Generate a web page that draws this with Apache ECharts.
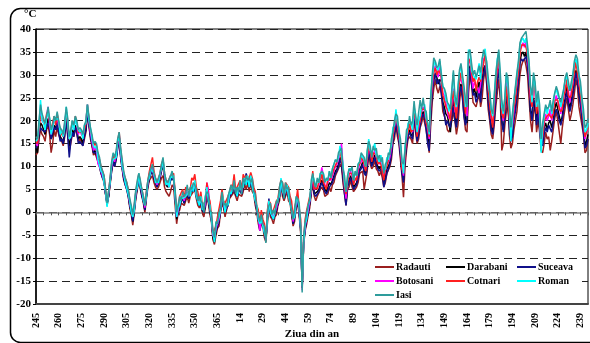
<!DOCTYPE html>
<html>
<head>
<meta charset="utf-8">
<script src="https://cdn.jsdelivr.net/npm/echarts@6/dist/echarts.min.js"></script>
<style>
  html, body { margin: 0; padding: 0; background: #fff; }
  #chart { width: 590px; height: 343px; }
</style>
</head>
<body>
<div id="chart"></div>
<script>
// Daily mean air temperature, day 245 of one year to day 244 of the next.
const days = [];
for (let d = 245; d <= 366; d++) days.push(String(d));
for (let d = 1; d <= 244; d++) days.push(String(d));

const stations = ['Radauti', 'Darabani', 'Suceava', 'Botosani', 'Cotnari', 'Roman', 'Iasi'];
const colors = ['#9a1f1f', '#000000', '#10108a', '#ff00ff', '#ff2020', '#00ffff', '#2e9c9c'];

const radauti = [12.5,13,16,18,17,16.5,15.5,18,19,17, 13,15,18,16.5,18.5,17,16,15.5,14.5,16.5, 20,17,13.5,15,17,16.5,18.5,17,15.5,16, 15.5,14.5,16,17.5,21.5,19,16,14.5,12.5,13, 13,11,10,8.5,7.5,6.5,4,2,3.5,6, 9,11,10,11.5,14,16,12,9.5,7,6, 5,3.5,1,-0.5,-2.8,0,3,5,7,5, 3.5,2,0,3,5.5,7,7.5,8,6.5,5.5, 5,5.5,6.5,7.5,8,5.5,4.5,4,3.5,4.5,
  6,5.5,1.5,-2.5,0,0.5,2,2,1.5,2.5, 3.5,2,3.5,4,4,5,3,1.5,1,1.5, 0,-1,1,3.5,2,-0.5,-2,-6,-7,-5, -3.5,-3,0,2,1,-1,0.5,0.5,3,3, 4,4.5,3.5,2.5,4,4,3.5,4.5,6,5, 6.5,4.5,6.5,4.5,4,1.5,0,-2.5,-4,-2.5, -3,-5.5,-6.5,-2.5,1,-1,-1.5,-2.5,-1,-0.5, 1.5,2.5,6,3.5,2.5,3.5,4.5,2.5,2,-0.5, -3,-2,1,2,-0.5,-4.5,-16.5,-7,-4,-2.5, -0.5,1,4,6.5,3.5,2.5,3.5,3.5,5,5.5, 5,3.5,3.5,4,5.5,4.5,6,6.5,8,8, 9.5,10.5,10,6.5,4,1.5,5,5.5,7,5.5, 4.5,4.5,5.5,6.5,8.5,8.5,9,5,7,9, 13,10.5,9.5,10,11.5,9.5,9,8,9,7.5, 5.5,6.5,8.5,8.5,10,11.5,15,16,19,16.5, 15,11.5,8,3.3,10,13.5,16,16.5,16,15, 20.5,17.5,15,16,18.5,19.5,21,19.5,18,15.5,
  13,19,24,27,29,27,26,27.5,26,22, 21,20,18,17.5,18.5,20,22,20,17,19, 24,27,25,21,18,17.5,26,30,28,24, 24,23,24.5,26,23,25,29,31,28,22.5, 20,17,16,19,23,26,29,25,13.5,15, 19,22,24.5,17,14,15,18,20,22,26, 30,32,33,33.5,32,30,25,20,17.5,22, 23,17.5,20,17.5,13.5,13,15,17.5,16,16.5, 13.5,15.5,18,20.5,22,20,17.5,15,18.5,21, 23,25,22.5,20,21.5,23.5,26,29,27.5,23, 21,19,17,13,13.5,16];

const darabani = [14,13,17,19.5,19,18,17,19,20.5,18, 16,17,19,18,20,18,16.5,16,15,18, 21,18,14.5,16,18,17,19,18,16,16.5, 16,15,17,18,22.5,19.5,17,15,13,13.5, 13.5,11.5,10.5,9,8,7,4,1.5,3.5,6.5, 9.5,11.5,10.5,12,14.5,16.5,12.5,10,7.5,6.5, 5.5,4,1.5,0,-2,0.5,3.5,5.5,7.5,5.5, 4,2.5,0.5,3.5,6,7.5,8.5,9,7.5,6.5, 5.5,6.5,7.5,9,10.5,7.5,6,5.5,5.5,7, 7.5,7,3.5,-1.5,0,1.5,2.5,3,2,3.5, 4,3,4,5,4.5,6,3.5,2.5,1.5,2.5, 0.5,0,1.5,4.5,2.5,0.5,-1.5,-5.5,-6.5,-4, -3,-2,0.5,3,1.5,0,1,1.5,3.5,4, 4.5,5.5,4,3.5,4.5,5,4,5.5,6.5,6, 7,5.5,7,5.5,4.5,2.5,0.5,-1.5,-3.5,-1.5, -2.5,-4.5,-6,-1.5,1.5,0,-1,-1.5,-0.5,0.5, 2,3.5,6.5,4.5,3,4.5,5,3.5,2.5,0.5, -2.5,-1,1.5,3,0,-3.5,-16.5,-6.5,-3.5,-1.5, 0,2,4.5,7.5,4,4,4.5,5,6,7, 6,5,4.5,5.5,6.5,6,7,8,9,9.5, 10.5,12,11,8,5,2.5,6,7,8,7, 5.5,6,6.5,8,9.5,10,11,9,8.5,10.5, 14,12,10.5,11.5,12.5,11,10,9.5,10,9, 6.5,8,9.5,10,11,13,16,17.5,20,18, 16,13,9,7,12,15,17,18,17,16.5, 21.5,19,16,17.5,19.5,21,22,21,19,17,
  15,22,27,29,30,29.5,28,29,28.5,24, 23,21.5,21,19.5,17.5,22,25,21,19,23, 27,28,27,24,20,19.5,30,32,29,26, 27,25,27,28.5,25.5,29,31.5,32,30,25, 22,19,17.5,21,26,29.5,32,27,20,18, 21.5,26,26,20,16,17,21,23,25.5,29, 33,34.5,35,34,35,33,29,22,21.5,25, 25,20,23,19,15,15.5,18.5,19.5,18,19.5, 20,18.5,20,22.5,24,22.5,21,19.5,21,23.5, 25,27.5,24.5,22.5,24.5,26.5,29,31,30,26.5, 24,21,18.5,14.5,15.5,17];

const suceava = [14,15,17,18.5,18,18,17.5,18.5,19.5,18.5, 16,17.5,18.5,18,19.5,17.5,15.5,16,15,17, 20.5,16.5,12,15.5,17.5,16.5,18.5,17.5,15,15.5, 15,14.5,16.5,18,22,19,16.5,15,13,13, 13,11,10,8.5,7.5,7,4,2,3.5,6.5, 9,11,10,11.5,14,16.5,12,9.5,7.5,6, 5,3.5,1.5,0,-2,0.5,3.5,5.5,7,5.5, 3.5,2.5,0.5,3.5,6,7.5,8.5,9.5,7.5,6.5, 5.5,6.5,7.5,9.5,10.5,8,6.5,6,5.5,7, 7.5,7,3.5,-1,0,1.5,2.5,3,2,3.5, 4,3,4.5,5,4.5,6,3.5,2.5,1.5,2.5, 0.5,0,1.5,4.5,2.5,0.5,-1.5,-5,-6,-4, -3,-2,0.5,3,1.5,0,1,1.5,3.5,4, 4.5,5.5,4,3.5,4.5,5,4,5.5,7,8.5, 7,5.5,7,5.5,4.5,2.5,0.5,-1.5,-4,-2, -2.5,-4.5,-6,-1,3,0,-1,-1.5,-0.5,0.5, 2,3.5,6.5,4.5,3,4.5,5,3.5,2.5,0.5, -2.5,-1,1.5,3,0,-3.5,-16,-6.5,-3.5,-1.5, 0,2,4.5,7.5,4,3.5,4,4.5,5.5,6.5, 5.5,4.5,4,4,5.5,5.5,6.5,7.5,8.5,9, 10,11.5,10.5,7.5,4,1.5,5.5,6.5,7.5,6.5, 5,5.5,6,7.5,9,9.5,10.5,8.5,8,10, 13.5,11.5,10,11,12,10.5,9.5,9,9.5,8.5, 5.5,5.5,8.5,9.5,10.5,12.5,15.5,17,19.5,17.5, 15.5,12.5,8.5,6.5,11.5,14.5,16.5,17.5,16.5,16, 21,18.5,15.5,17,19,20.5,21.5,20.5,18,15,
  13.4,21,26,29,30.5,28,29,28,26,23.5, 21.5,19,20,19,18.5,21.5,23,20,18.5,22, 26,27.5,25,21,19,20.6,29,31.5,28,25.5, 26,24,25,27,24,28.5,30,32,29,24, 21,18,17,20,25,28.5,31,26.5,20,17.5, 20.5,25,24,18.5,15.5,16.5,20,22,25,28.5, 32.5,33.5,33,33,34,32,28,22,20,24.5, 23.5,19,21.5,18.5,15,14.5,17,18.5,17.5,19, 19,17.5,19.5,21.5,22.5,21.5,20,19,20.5,22.5, 24.5,26.5,23.5,22,23.5,25.5,28,30.5,28.5,25.5, 23.5,20.5,17.5,14,14.5,16];

const botosani = [15,14.5,19,22,20,19.5,19,21,23,19, 17,18.5,20,19.5,20.5,19,18,17.5,16.5,19.5, 22,19.5,16,17.5,19,18.5,20.5,19,17,18, 17,16.5,18.5,19.5,23.5,20,17.5,15.5,13.5,14, 13.5,10.5,10,9,8,7,4.5,2,4,7, 10,12,11,12.5,15,17,13,10,8,7, 6,4.5,2,0.5,-1,1,4,6,8,6, 4.5,3,1,4,6.5,8,9,10,8,7, 6,7,8,10,11,8,6.5,6,6.5,8, 8,7.5,4,-1,0.5,2,3,3.5,2.5,4, 4.5,3.5,4.5,5.5,5,6.5,4,3,2,3, 1,0.5,2,6.5,5,1,-1,-5,-5.5,-3.5, -2.5,-1.5,1,3.5,2,0.5,1.5,2,4,4.5, 5,6,4.5,4,5,5.5,4.5,6,7,6.5, 7.5,6,7.5,6,5,3,1,-1,-4,-1, -2,-4,-6,-1,2,0.5,-0.5,-1,0,1, 2.5,4,7,5,3.5,5,6,4,3,1, -2,-0.5,2,3.5,0.5,-3,-17,-6,-3,-1, 0.5,2.5,5,8,5,5,5.5,6,7.5,9.8, 8,6,5.5,6.5,7.5,7,8,9,10,10.5, 11.5,13,15,10,6,3,7,8,9,8, 6.5,7,7.5,9,10.5,11,12,10,9.5,11.5, 15,13,11.5,12.5,13.5,12,11,10.5,11,10, 7.5,9,10.5,11,12,14,17,18.5,21.5,19, 17,14,10,8,13,16,18,19,18,17.5, 22.5,20,17,18.5,20.5,22,23,22,20,18,
  16,24.5,27.5,31,32,30.5,29.5,32.5,29,26, 25.5,24,22,20.5,21,23.5,27,22,21.5,25, 29.5,29.5,28,25.5,22.5,21,32.5,33.5,30,27, 28.5,27.5,27,26,28,31.5,33.5,34,31,27.5, 24.5,20.5,19.5,23,28.5,31,33,28.5,22.5,20, 23.5,28.5,26.5,21.5,17.5,19,22,25.5,28,31.5, 35.5,36,37,36,37.5,34.5,30.5,25,23.5,27.5, 26,22.5,24.5,20.5,15,17,19.5,21.5,20,21, 22.5,20,22.5,24,25.5,24,23.5,21.5,23.5,25, 27.5,28,26.5,24,26.5,28,31.5,32,31.5,28, 26.5,22.5,20.5,16,17.5,18];

const cotnari = [15.5,15,18.5,21,20.5,20,19,21.5,22,20, 18,19.5,21,19,21.5,19.5,18,17,16.5,19, 22,19,16,17.5,20,19,21,19.5,17.5,17.5, 17.5,16.5,18,19.5,23.5,20.5,18,16.5,14.5,15, 14.5,12.5,11.5,10,9,8,5,2.5,4.5,7.5, 10.5,12.5,11.5,13,15.5,17.5,13.5,11,8.5,7.5, 6.5,5,2.5,1,-1,1.5,4.5,6.5,8.5,6.5, 5,3.5,1.5,4.5,7,9,10.5,12,9,7.5, 6.5,7.5,8.5,10.5,11.5,8.5,7,6.5,6.5,8,
  8,8.5,4.5,0.5,1,3.5,3.5,5,3,5.5, 5,5,5,7.5,7,8.3,5.5,4.5,2.5,4.5, 1.5,2,2.5,6.5,3.5,2.5,-0.5,-4.5,-4.5,-3, -1,-1,2.5,5,2.5,2,2,3.5,4.5,6, 5.5,8.3,5,5.5,5.5,7,5,8.3,7.5,8, 8,7.5,8.7,7.5,5.5,4.5,1.5,0.5,-2.5,0.5, -1.5,-2.5,-5.5,0.5,2.5,2,0,0.5,0.5,2.5, 3,5.5,7,6.5,4,6.5,6,5.5,3.5,2.5, -1.5,1,2.5,5,1,-1.5,-15.5,-5.5,-1.5,0.5, 0.5,3.5,5,9,5,5.5,5,7,6.5,8.5, 6.5,6.5,5,7.5,7,7.5,7.5,9.5,9.5,11, 11,13.5,11.5,9.5,5.5,4,6.5,8.5,8.5,8.5, 6,7.5,7,10,10.5,12,11.5,10.5,9,12, 14.5,13.5,11,13,13,12.5,10.5,11,10.5,10.5, 7,9.5,10,11.5,11.5,14.5,16.5,19,20.5,19.5, 16.5,14.5,9.5,8.5,12.5,16.5,17.5,19.5,17.5,18, 22,20.5,16.5,19,20,22.5,22.5,22.5,19.5,18.5,
  16.5,23.5,28.5,30.5,31.5,30,31,30.5,29.5,25.5, 24.5,23,22.5,21.5,20,24.5,26.5,23,20.5,25.5, 28.5,30.5,28.5,24.5,21.5,21.5,33.5,33,30.5,28.5, 29.5,26.5,28.5,29.5,28.5,31,32.5,34.5,30.5,27, 23.5,21,18.5,23.5,27.5,31.5,34,27.5,21.5,20.5, 22.5,27.5,27.5,20.5,17,19.5,23,24.5,28.5,30.5, 34.5,36.5,36.5,36.5,36,34.5,31.5,24.5,23,28.5, 26.5,21.5,24,21.5,15.5,16.5,20,20.5,20.5,21.5, 21.5,20.5,21.5,24.5,24.5,24.5,22.5,22,22.5,25.5, 26.5,29,25.5,25,25.5,28.5,30.5,33,30.5,28.5, 25.5,23.5,19.5,16.5,16.5,18.5];

const roman = [15.5,16,19,24.5,20,19.5,18,20.5,22,20.5, 17,18.5,20,20,20.5,20,17,18,16.5,18.5, 23,19.5,16,16.5,20,18,20.5,19,18,17.5, 18,16,19,19.5,23.5,20,18.5,16,14.5,14, 14.5,11.5,11.5,9,8.5,6.5,4.5,1.2,4.5,6.5, 10.5,11.5,11.5,12,15.5,16.5,13.5,10,8.5,6.5, 6.5,4,2.5,0,-1,0.5,4.5,5.5,8.5,5.5, 5,2.5,1.5,3.5,7,7.5,9.5,9.5,8.5,6.5, 6.5,6.5,8.5,9.5,11.5,8.5,6,6.5,5.5,8,
  7.5,8,3.5,-1,1,1.5,3.5,3,3,3.5, 4,4.5,3.5,6,4.5,7,3.5,3.5,1.5,3.5, 0.5,1.5,1.5,5.5,2.5,1.5,-1.5,-4.5,-6.5,-3, -3,-1,0.5,4,2.5,0,2,1.5,4.5,4, 5.5,5.5,5,3.5,5.5,5,5,5.5,7.5,6, 8,5.5,8,5.5,5.5,2.5,1.5,-1.5,-2.5,-1.5, -1.5,-4.5,-5.5,-1.5,2.5,0,0,-1.5,0.5,0.5, 3,3.5,7.5,4.5,4,4.5,6,3.5,3.5,0.5, -1.5,-1,2.5,3,1,-3.5,-16,-6.5,-2.5,-1.5, 1.5,2.5,6,8,7,5.5,7,6.5,8.5,8.5, 8.5,7,7,7,9,7.5,9.5,9.5,11.5,11, 12,14.5,12.5,10.5,6.5,4.5,7.5,9.5,9.5,9.5, 7,8.5,8,10.5,11,12.5,12.5,11.5,10,13, 16,13.5,13,13,15,12.5,12.5,11,12.5,10.5, 9,9.5,12,11.5,13.5,14.5,18.5,19,22.5,19.5, 18.5,14.5,11.5,8.5,14.5,16.5,19.5,19.5,19.5,18, 23,21.5,17.5,20,21,23.5,23.5,23.5,20.5,19.5,
  17,25.5,29.5,32,33,31.5,31,33,30.5,27.5, 27,24.5,24,22,23,26.5,30.5,24.5,23,27.5, 30.5,32,29,27,23,23.5,35.5,35,31,30, 30,29,29,32.5,29,33.5,34.5,35.7,32,28, 26,22.5,21,25,30,33.5,35,29,23,21.5, 25,30,28,23,15.5,20.5,24.5,27,30,32.5, 36.5,37.5,38,37,38,35.5,32,27,24,30, 27.5,23,25.5,22,13,18.5,21,23,21.5,23, 24,21.5,23.5,26,27,25.5,25,23,24.5,27, 29,30,27.5,26.5,27.5,30,32.5,33.5,32,30, 27.5,24.5,21,17.5,18,19.5];

const iasi = [16.5,16,20,23.5,21.5,20.5,19.5,21,23,20.5, 18,19,21,20,22,20,18.5,18,17,20, 23,20.5,16.5,18,20,19,21,20,18,18.5, 18,17,19,20,23.5,21,18.5,17,15,15.5, 15,13,12,10,9,8,5,2,4.5,7.5, 11,13,12,13.5,16,17.5,14,11.5,9,7.5, 6.5,5,3,1.5,-0.5,2,5,7,8.5,7, 5,3.5,1.5,4.5,7,8.5,9.5,10.5,8.5,7.5, 6.5,7.5,8.5,10.5,12,8.5,7,6.5,6.5,8,
  9,7,5,0,0,3.5,2.5,4.5,3.5,4, 6,3.5,5.5,5,6.5,6,5,2.5,3.5,2.5, 2,0,3.5,4.5,4,0.5,0,-4,-5.5,-2, -2.5,0,1,4.5,1.5,2,1,3.5,3.5,6, 4.5,7,4,5.5,4.5,7,4,7.5,6.5,8, 7,7.5,6.5,7.5,4.5,4,0.5,0.5,-2,-0.5, -2.5,-3,-6.7,0,1.5,2,-0.5,0.5,-0.5,2.5, 2,5.5,7,6.5,3,6.5,5,5.5,2.5,2.5, -1.5,0.5,3.5,3,2,-2.5,-17.5,-5,-2,0, 1.5,3,7,8.5,6.5,5.5,7.5,6.5,8.5,9, 8.5,6.5,7.5,7,9,7.5,9.5,9.5,11.5,11, 13,13.5,14,9.5,8,4.5,8,9.5,9,10, 7,9,8,10.5,11,13,12.5,12,10,13.5, 15.5,14.5,12,14.5,13.5,14,11.5,12.5,11,12, 8.5,10.5,11,13,12.5,16,17.5,20,21.5,21, 17.5,16,11,10.5,13.5,18,18.5,21,19,20, 24.3,21,19,19,24.5,22.5,25,22.5,22,19,
  17.5,25,30,33.7,33,31.5,32,33.5,30,27.5, 27,26,24,23.5,22.5,27,31,25.5,23.5,27, 31,32.5,30,27.5,24.5,23,35,35.5,32.5,30, 31,29.5,30.5,32,30.5,33.5,35.5,35.5,33,29.5, 26.5,22.5,21.5,25.5,30,33,35.5,30.5,24.5,22, 25,30.5,29.5,23.5,18.5,21.5,24.5,27.5,30.5,33, 37,38,38.5,38.5,39.5,36.5,33,27.5,25.5,30.5, 28.5,24,26.5,23.5,16,19.5,21.5,23.5,22.5,23, 24.5,22,24.5,26,27.5,26.5,25,24,25.5,27, 29.5,30.5,28.5,26.5,28.5,30,33,34.4,33.5,30, 28.5,25,22.5,18.5,19,20.5];

const seriesData = [radauti, darabani, suceava, botosani, cotnari, roman, iasi];

const yTicks = { min: -20, max: 40, step: 5 };

const font = 'Liberation Serif';
const chart = echarts.init(document.getElementById('chart'), null, { renderer: 'canvas' });

const legendItem = (names, left) => ({
  data: names,
  orient: 'vertical',
  left: left,
  top: 262,
  itemWidth: 19,
  itemHeight: 2,
  itemGap: 4,
  icon: 'rect',
  padding: 0,
  z: 6,
  textStyle: { fontFamily: font, fontWeight: 'bold', fontSize: 10, color: '#000', padding: [0, 0, 0, -3] }
});

chart.setOption({
  animation: false,
  backgroundColor: '#fff',
  color: colors,
  grid: { left: 36, right: 2, top: 29, bottom: 39, show: true, borderColor: '#000', borderWidth: 1, outerBoundsMode: 'none' },
  graphic: [
    { type: 'rect', left: 8, top: 6, shape: { width: 600, height: 334, r: 10 }, style: { fill: 'none', stroke: '#000', lineWidth: 1.5 }, z: 0, silent: true },
    { type: 'text', left: 24, top: 9, style: { text: '°C', fontFamily: font, fontWeight: 'bold', fontSize: 11, fill: '#000' }, z: 5 },
    { type: 'rect', left: 366, top: 261, shape: { width: 213, height: 40 }, style: { fill: '#fff' }, z: 5, silent: true }
  ],
  legend: [
    legendItem(['Radauti', 'Botosani', 'Iasi'], 375),
    legendItem(['Darabani', 'Cotnari'], 446),
    legendItem(['Suceava', 'Roman'], 517)
  ],
  xAxis: [
    {
      type: 'category',
      data: days,
      boundaryGap: false,
      position: 'bottom',
      name: 'Ziua din an',
      nameLocation: 'middle',
      nameGap: 25,
      nameMoveOverlap: false,
      nameTextStyle: { fontFamily: font, fontWeight: 'bold', fontSize: 11, color: '#000' },
      axisLine: { onZero: false, lineStyle: { color: '#444', width: 2 } },
      axisTick: { show: false },
      axisLabel: { interval: 14, rotate: 90, margin: 9, fontFamily: font, fontWeight: 'bold', fontSize: 10, color: '#000' },
      splitLine: { show: false }
    },
    {
      type: 'category',
      data: days,
      boundaryGap: false,
      position: 'top',
      axisLine: { onZero: true, lineStyle: { color: '#808080', width: 1.5 } },
      axisTick: { show: true, interval: 4, inside: true, length: 3, lineStyle: { color: '#555', width: 1 } },
      axisLabel: { show: false },
      splitLine: { show: false }
    }
  ],
  yAxis: {
    type: 'value',
    min: yTicks.min,
    max: yTicks.max,
    interval: yTicks.step,
    axisLine: { show: true, lineStyle: { color: '#000', width: 1.5 } },
    axisTick: { show: true, length: 3, lineStyle: { color: '#000' } },
    axisLabel: { margin: 5, fontFamily: font, fontWeight: 'bold', fontSize: 11, color: '#000' },
    splitLine: { show: true, lineStyle: { color: '#222', type: [8, 5], width: 1 } }
  },
  series: stations.map((name, k) => ({
    name: name,
    type: 'line',
    data: seriesData[k],
    showSymbol: false,
    symbol: 'none',
    lineStyle: { width: 1.5, color: colors[k] },
    itemStyle: { color: colors[k] },
    z: 2 + k * 0.01
  }))
});
</script>
</body>
</html>
